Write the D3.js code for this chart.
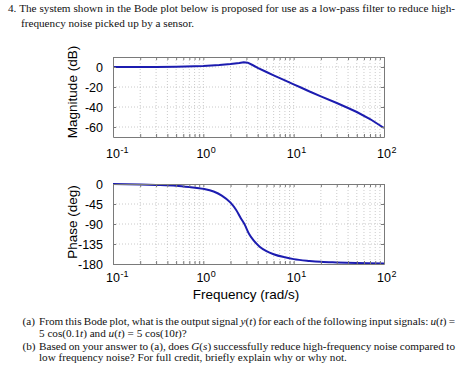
<!DOCTYPE html>
<html>
<head>
<meta charset="utf-8">
<script src="https://cdn.jsdelivr.net/npm/d3@7"></script>
<style>
  body { margin: 0; background: #fff; }
  svg { display: block; }
  .question { font-family: "Liberation Serif", "Times New Roman", serif; font-size: 11.2px; fill: #111; }
  .tick-label { font-family: "Liberation Sans", Arial, sans-serif; font-size: 12.5px; fill: #000; }
  .tick-exp { font-family: "Liberation Sans", Arial, sans-serif; font-size: 9px; fill: #000; }
  .axis-title { font-family: "Liberation Sans", Arial, sans-serif; font-size: 13.5px; fill: #000; }
  .grid line { stroke: #bdbdbd; stroke-width: 0.8; stroke-dasharray: 1,2; }
  .axis path, .axis line { stroke: #7a7a7a; }
  .axis text { font-family: "Liberation Sans", Arial, sans-serif; font-size: 12.5px; fill: #000; }
</style>
</head>
<body>
<svg id="chart"></svg>
<script>
// Frequency decades shown on both plots
const decades = [0.1, 1, 10, 100];
const decadeExps = ['-1', '0', '1', '2'];

// Magnitude curve (rad/s, dB)
const magFreq = [0.1, 0.2, 0.3, 0.5, 0.8, 1, 1.5, 2, 2.5, 2.8, 3.1, 3.5, 4, 5, 6, 8, 10, 12, 15, 20, 30, 40, 50, 70, 100];
const magDb = [0, 0, 0.1, 0.3, 0.7, 1.0, 1.9, 2.9, 4.0, 4.7, 4.3, 2.0, -0.8, -5, -8.3, -13.3, -17.3, -20.5, -24.5, -29.3, -36, -41, -45, -52, -61];
const magTicks = [0, -20, -40, -60];

// Phase curve (rad/s, deg)
const phaseFreq = [0.1, 0.2, 0.3, 0.5, 0.7, 1, 1.3, 1.6, 2, 2.3, 2.6, 2.85, 3.2, 3.6, 4.2, 5, 6, 8, 10, 15, 20, 30, 50, 100];
const phaseDeg = [0, -1, -2, -4, -7, -11, -17, -26, -42, -58, -77, -90, -112, -127, -141, -151, -158, -165, -169, -173, -175, -176.5, -178, -179];
const phaseTicks = [0, -45, -90, -135, -180];

const questionTop = [
  '4. The system shown in the Bode plot below is proposed for use as a low-pass filter to reduce high-',
  'frequency noise picked up by a sensor.'
];

const svg = d3.select('#chart')
  .attr('width', 474)
  .attr('height', 381);

// minor + major ticks for a log axis over 0.1..100
const logTicks = [];
for (let e = -1; e < 2; e++) {
  for (let m = 1; m < 10; m++) logTicks.push(m * Math.pow(10, e));
}
logTicks.push(100);

const xScale = d3.scaleLog().domain([0.1, 100]).range([113, 384]);

function drawPanel(cfg) {
  const y = d3.scaleLinear().domain(cfg.domain).range([cfg.bottom, cfg.top]);
  const g = svg.append('g');

  // dotted grid
  const grid = g.append('g').attr('class', 'grid');
  grid.selectAll('.vg')
    .data(logTicks.slice(1, -1))
    .join('line')
    .attr('x1', d => xScale(d)).attr('x2', d => xScale(d))
    .attr('y1', cfg.top).attr('y2', cfg.bottom);
  grid.selectAll('.hg')
    .data(cfg.ticks.filter(t => t > cfg.domain[0] && t < cfg.domain[1]))
    .join('line')
    .attr('x1', 113).attr('x2', 384)
    .attr('y1', d => y(d)).attr('y2', d => y(d));

  // curve
  const line = d3.line()
    .x(d => xScale(d[0]))
    .y(d => y(d[1]))
    .curve(cfg.curve);
  g.append('path')
    .datum(cfg.freq.map((f, i) => [f, cfg.values[i]]))
    .attr('fill', 'none')
    .attr('stroke', '#1c1cb0')
    .attr('stroke-width', 2)
    .attr('d', line);

  // frame with inward ticks (MATLAB style)
  const tickLen = 3;
  g.append('g').attr('class', 'axis')
    .attr('transform', `translate(0,${cfg.bottom})`)
    .call(d3.axisBottom(xScale).tickValues(logTicks).tickSizeInner(-tickLen).tickSizeOuter(0).tickFormat(''));
  g.append('g').attr('class', 'axis')
    .attr('transform', `translate(0,${cfg.top})`)
    .call(d3.axisTop(xScale).tickValues(logTicks).tickSizeInner(-tickLen).tickSizeOuter(0).tickFormat(''));
  g.append('g').attr('class', 'axis')
    .attr('transform', 'translate(113,0)')
    .call(d3.axisLeft(y).tickValues(cfg.ticks).tickSizeInner(-tickLen).tickSizeOuter(0).tickPadding(10).tickFormat(d3.format('d')))
    .call(a => a.selectAll('text').text(d => d < 0 ? '-' + Math.abs(d) : d));
  g.append('g').attr('class', 'axis')
    .attr('transform', 'translate(384,0)')
    .call(d3.axisRight(y).tickValues(cfg.ticks).tickSizeInner(-tickLen).tickSizeOuter(0).tickFormat(''));

  // 10^n labels
  decades.forEach((d, i) => {
    g.append('text')
      .attr('class', 'tick-label')
      .attr('x', xScale(d))
      .attr('y', cfg.labelY)
      .attr('text-anchor', 'middle')
      .text('10');
    g.append('text')
      .attr('class', 'tick-exp')
      .attr('x', xScale(d) + 7.5)
      .attr('y', cfg.labelY - 5.5)
      .text(decadeExps[i]);
  });

  // y title
  g.append('text')
    .attr('class', 'axis-title')
    .attr('transform', `translate(77,${cfg.titleY}) rotate(-90)`)
    .attr('text-anchor', 'middle')
    .text(cfg.title);
}

drawPanel({
  top: 57, bottom: 137, domain: [-70, 10], ticks: magTicks,
  freq: magFreq, values: magDb, curve: d3.curveLinear,
  labelY: 158, title: 'Magnitude (dB)', titleY: 92
});

drawPanel({
  top: 184, bottom: 264, domain: [-180, 0], ticks: phaseTicks,
  freq: phaseFreq, values: phaseDeg, curve: d3.curveMonotoneX,
  labelY: 282, title: 'Phase (deg)', titleY: 222
});

svg.append('text')
  .attr('class', 'axis-title')
  .attr('x', 246)
  .attr('y', 299)
  .attr('text-anchor', 'middle')
  .text('Frequency (rad/s)');

// justify a line to a given width by spreading the word gaps
function justify(t, width) {
  const natural = t.node().getComputedTextLength();
  const gaps = (t.text().match(/ /g) || []).length;
  if (gaps) t.attr('word-spacing', (width - natural) / gaps);
}

function addLine(x, y, parts, width) {
  const t = svg.append('text').attr('class', 'question').attr('x', x).attr('y', y);
  parts.forEach(p => {
    t.append('tspan')
      .attr('font-style', p[1] ? 'italic' : null)
      .text(p[0]);
  });
  if (width) justify(t, width);
  return t;
}

addLine(8, 12, [[questionTop[0], false]], 447);
addLine(21, 27, [[questionTop[1], false]]);

svg.append('text').attr('class', 'question').attr('x', 22.5).attr('y', 325).text('(a)');
addLine(39, 325, [
  ['From this Bode plot, what is the output signal ', false], ['y', true], ['(', false], ['t', true], [') for each of the following input signals: ', false],
  ['u', true], ['(', false], ['t', true], [') =', false]
], 416);
addLine(39, 337, [
  ['5 cos(0.1', false], ['t', true], [') and ', false], ['u', true], ['(', false], ['t', true], [') = 5 cos(10', false], ['t', true], [')?', false]
]);
svg.append('text').attr('class', 'question').attr('x', 22.5).attr('y', 349.5).text('(b)');
addLine(39, 349.5, [
  ['Based on your answer to (a), does ', false], ['G', true], ['(', false], ['s', true], [') successfully reduce high-frequency noise compared to', false]
], 416);
addLine(39, 361, [['low frequency noise? For full credit, briefly explain why or why not.', false]]);
</script>
</body>
</html>
